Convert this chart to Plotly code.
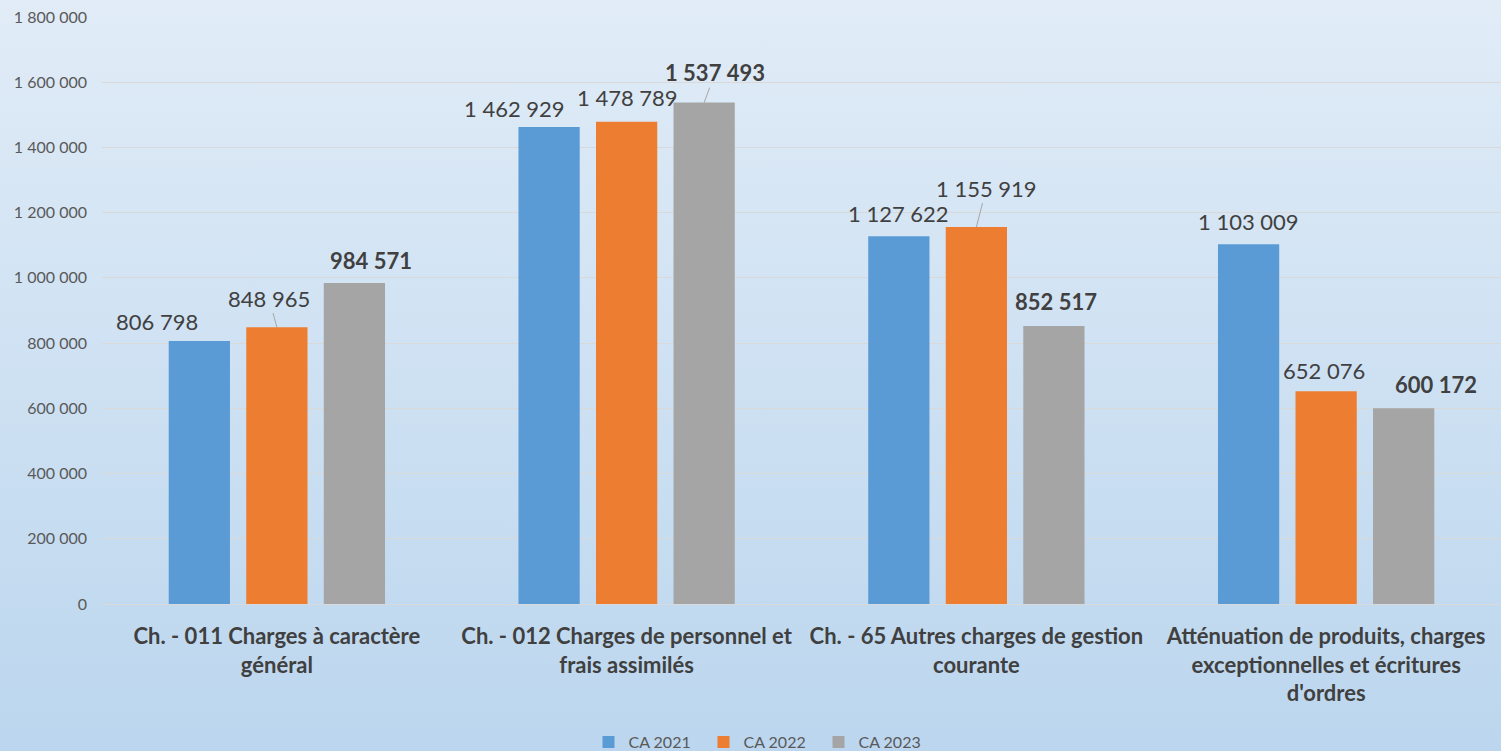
import base64
import plotly.graph_objects as go

# ---------------- data ----------------
categories = [
    "Ch. - 011 Charges à caractère<br>général",
    "Ch. - 012 Charges de personnel et<br>frais assimilés",
    "Ch. - 65 Autres charges de gestion<br>courante",
    "Atténuation de produits, charges<br>exceptionnelles et écritures<br>d'ordres",
]
series_names = ["CA 2021", "CA 2022", "CA 2023"]
ca2021 = [806798, 1462929, 1127622, 1103009]
ca2022 = [848965, 1478789, 1155919, 652076]
ca2023 = [984571, 1537493, 852517, 600172]
y_ticks = [0, 200000, 400000, 600000, 800000, 1000000, 1200000, 1400000, 1600000, 1800000]

# ---------------- style ----------------
colors = ["#5B9BD5", "#ED7D31", "#A5A5A5"]
FONT = "Lato"
TEXT = "#404040"
W, H = 1501, 751
ML, MR, MT, MB = 102, 0, 17, 147
BARGAP = 0.335
GROUPGAP = 0.21

# label offsets (px) relative to bar top centre: (dx, dy up, leader line?)
label_style = [
    [(-42, 19, False), (-8, 29, True), (17, 22, False)],
    [(-35, 18, False), (1, 24, False), (11, 30, True)],
    [(0, 23, False), (10, 39, True), (2, 24, False)],
    [(0, 23, False), (-2, 21, False), (32, 24, False)],
]

series = [ca2021, ca2022, ca2023]

fig = go.Figure()
for name, vals, col in zip(series_names, series, colors):
    fig.add_trace(go.Bar(name=name, x=categories, y=vals, marker=dict(color=col, line=dict(width=0))))

# background gradient
svg = (
    '<svg xmlns="http://www.w3.org/2000/svg" width="100" height="100" preserveAspectRatio="none">'
    '<defs><linearGradient id="g" x1="0" y1="0" x2="0" y2="1">'
    '<stop offset="0" stop-color="#E1ECF7"/><stop offset="1" stop-color="#BBD6EE"/>'
    '</linearGradient></defs><rect width="100" height="100" fill="url(#g)"/></svg>'
)
src = "data:image/svg+xml;base64," + base64.b64encode(svg.encode()).decode()
pw = W - ML - MR
ph = H - MT - MB
fig.add_layout_image(dict(
    source=src, xref="paper", yref="paper",
    x=-ML / pw, y=1 + MT / ph, sizex=W / pw, sizey=H / ph,
    xanchor="left", yanchor="top", sizing="stretch", layer="below",
))

# data labels
cat_px = pw / len(categories)
slot = cat_px * (1 - BARGAP) / len(series)
for ci, cat in enumerate(categories):
    for si, vals in enumerate(series):
        dx, dy, leader = label_style[ci][si]
        off = (si - 1) * slot
        v = vals[ci]
        txt = f"{v:,}".replace(",", " ")
        bold = si == 2
        font = dict(family=FONT, size=22, color=TEXT, weight=700 if bold else 400)
        if leader:
            fig.add_annotation(
                x=cat, y=v, xshift=off, text=txt, font=font,
                showarrow=True, arrowhead=0, arrowwidth=1, arrowcolor="#A6A6A6",
                ax=dx, ay=-dy, standoff=0,
            )
        else:
            fig.add_annotation(
                x=cat, y=v, xshift=off + dx, yshift=dy, text=txt, font=font,
                showarrow=False, xanchor="center", yanchor="middle",
            )

fig.update_layout(
    width=W, height=H,
    margin=dict(l=ML, r=MR, t=MT, b=MB, pad=0),
    paper_bgcolor="#CFE0F2",
    plot_bgcolor="rgba(0,0,0,0)",
    barmode="group", bargap=BARGAP, bargroupgap=GROUPGAP,
    separators=", ",
    font=dict(family=FONT, color=TEXT),
    showlegend=True,
    legend=dict(
        orientation="h", xref="container", yref="container",
        x=0.507, y=0.012, xanchor="center", yanchor="middle",
        font=dict(family=FONT, size=16, color="#595959"),
        bgcolor="rgba(0,0,0,0)", itemwidth=30, traceorder="normal",
        entrywidth=70, entrywidthmode="pixels",
    ),
    xaxis=dict(
        showgrid=False, showline=False, zeroline=False, ticks="",
        tickfont=dict(family=FONT, size=22, color=TEXT, weight=700),
        ticklabelstandoff=17,
    ),
    yaxis=dict(
        range=[0, 1800000], tickvals=y_ticks, tickformat=",d",
        showgrid=True, gridcolor="#D9D9D9", gridwidth=1,
        zeroline=True, zerolinecolor="#D9D9D9", zerolinewidth=1,
        showline=False, ticks="",
        tickfont=dict(family=FONT, size=16, color="#595959"),
        ticklabelstandoff=14,
    ),
)

fig.write_html("out.html")
